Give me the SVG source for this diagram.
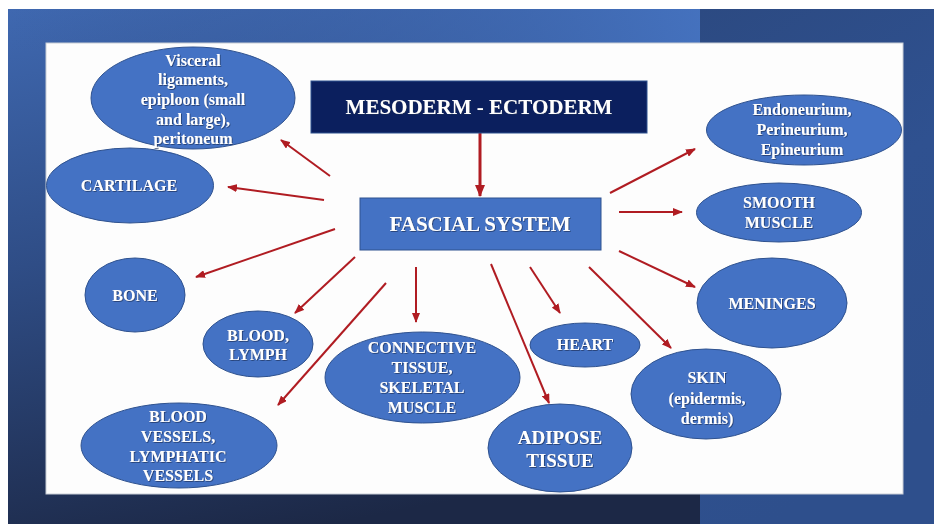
<svg xmlns="http://www.w3.org/2000/svg" width="934" height="524" viewBox="0 0 934 524">
<defs>
<linearGradient id="bgL" x1="0" y1="0" x2="0.35" y2="1">
<stop offset="0" stop-color="#3f68b0"/>
<stop offset="0.45" stop-color="#2f4d86"/>
<stop offset="1" stop-color="#1c2846"/>
</linearGradient>
<linearGradient id="bgTop" x1="0" y1="0" x2="1" y2="0">
<stop offset="0" stop-color="#36599a" stop-opacity="0"/>
<stop offset="1" stop-color="#4674c2" stop-opacity="0.9"/>
</linearGradient>
<linearGradient id="bgR" x1="0" y1="0" x2="0.3" y2="1">
<stop offset="0" stop-color="#2c4a82"/>
<stop offset="0.5" stop-color="#2f5190"/>
<stop offset="1" stop-color="#2e4f8c"/>
</linearGradient>
<filter id="ts" x="-10%" y="-30%" width="120%" height="160%">
<feDropShadow dx="0.8" dy="0.8" stdDeviation="0.4" flood-color="#1b2b55" flood-opacity="0.8"/>
</filter>
<marker id="ah" markerUnits="userSpaceOnUse" markerWidth="10" markerHeight="8" refX="9" refY="4" orient="auto">
<path d="M0,0 L10,4 L0,8 z" fill="#b01c22"/>
</marker>
<marker id="ahBig" markerUnits="userSpaceOnUse" markerWidth="12" markerHeight="10" refX="11" refY="5" orient="auto">
<path d="M0,0 L12,5 L0,10 z" fill="#b01c22"/>
</marker>
<style>
.ell{fill:#4472c4;stroke:#2f528f;stroke-width:1}
.t{fill:#ffffff;font-family:"Liberation Serif","Times New Roman",serif;font-weight:bold;font-size:16px;text-anchor:middle;filter:url(#ts)}
.con{stroke:#b01c22;stroke-width:2;fill:none;marker-end:url(#ah)}
</style>
</defs>

<g id="background">
<rect x="0" y="0" width="934" height="524" fill="#ffffff"/>
<rect x="8" y="9" width="926" height="515" fill="url(#bgL)"/>
<rect x="8" y="9" width="692" height="40" fill="url(#bgTop)"/>
<rect x="700" y="9" width="234" height="515" fill="url(#bgR)"/>
<rect x="46" y="43" width="857" height="451" fill="#fdfdfd" stroke="#c8cdd6" stroke-width="1"/>
</g>

<g id="connectors">
<line x1="480" y1="133" x2="480" y2="196" stroke="#b01c22" stroke-width="3" marker-end="url(#ahBig)"/>
<line class="con" x1="330" y1="176" x2="281" y2="140"/>
<line class="con" x1="324" y1="200" x2="228" y2="187"/>
<line class="con" x1="335" y1="229" x2="196" y2="277"/>
<line class="con" x1="355" y1="257" x2="295" y2="313"/>
<line class="con" x1="386" y1="283" x2="278" y2="405"/>
<line class="con" x1="416" y1="267" x2="416" y2="322"/>
<line class="con" x1="491" y1="264" x2="549" y2="403"/>
<line class="con" x1="530" y1="267" x2="560" y2="313"/>
<line class="con" x1="589" y1="267" x2="671" y2="348"/>
<line class="con" x1="619" y1="251" x2="695" y2="287"/>
<line class="con" x1="619" y1="212" x2="682" y2="212"/>
<line class="con" x1="610" y1="193" x2="695" y2="149"/>
</g>

<g id="mesoderm-ectoderm">
<rect x="311" y="81" width="336" height="52" fill="#0b1f5e" stroke="#2f528f" stroke-width="1"/>
<text class="t" x="479" y="114" style="font-size:21px">MESODERM - ECTODERM</text>
</g>

<g id="fascial-system">
<rect x="360" y="198" width="241" height="52" fill="#4472c4" stroke="#2f528f" stroke-width="1"/>
<text class="t" x="480" y="231" style="font-size:21px">FASCIAL SYSTEM</text>
</g>

<g id="visceral">
<ellipse class="ell" cx="193" cy="98" rx="102" ry="51"/>
<text class="t" x="193" y="66">Visceral</text>
<text class="t" x="193" y="85">ligaments,</text>
<text class="t" x="193" y="105">epiploon (small</text>
<text class="t" x="193" y="125">and large),</text>
<text class="t" x="193" y="144">peritoneum</text>
</g>

<g id="cartilage">
<ellipse class="ell" cx="130" cy="185.5" rx="83.5" ry="37.5"/>
<text class="t" x="129" y="191">CARTILAGE</text>
</g>

<g id="bone">
<ellipse class="ell" cx="135" cy="295" rx="50" ry="37"/>
<text class="t" x="135" y="301">BONE</text>
</g>

<g id="blood-lymph">
<ellipse class="ell" cx="258" cy="344" rx="55" ry="33"/>
<text class="t" x="258" y="341">BLOOD,</text>
<text class="t" x="258" y="360">LYMPH</text>
</g>

<g id="blood-vessels">
<ellipse class="ell" cx="179" cy="445.5" rx="98" ry="42.5"/>
<text class="t" x="178" y="422">BLOOD</text>
<text class="t" x="178" y="442">VESSELS,</text>
<text class="t" x="178" y="462">LYMPHATIC</text>
<text class="t" x="178" y="481">VESSELS</text>
</g>

<g id="connective-tissue">
<ellipse class="ell" cx="422.5" cy="377.5" rx="97.5" ry="45.5"/>
<text class="t" x="422" y="353">CONNECTIVE</text>
<text class="t" x="422" y="373">TISSUE,</text>
<text class="t" x="422" y="393">SKELETAL</text>
<text class="t" x="422" y="413">MUSCLE</text>
</g>

<g id="heart">
<ellipse class="ell" cx="585" cy="345" rx="55" ry="22"/>
<text class="t" x="585" y="350">HEART</text>
</g>

<g id="adipose-tissue">
<ellipse class="ell" cx="560" cy="448" rx="72" ry="44"/>
<text class="t" x="560" y="444" style="font-size:19px">ADIPOSE</text>
<text class="t" x="560" y="467" style="font-size:19px">TISSUE</text>
</g>

<g id="skin">
<ellipse class="ell" cx="706" cy="394" rx="75" ry="45"/>
<text class="t" x="707" y="383">SKIN</text>
<text class="t" x="707" y="404">(epidermis,</text>
<text class="t" x="707" y="424">dermis)</text>
</g>

<g id="meninges">
<ellipse class="ell" cx="772" cy="303" rx="75" ry="45"/>
<text class="t" x="772" y="309">MENINGES</text>
</g>

<g id="smooth-muscle">
<ellipse class="ell" cx="779" cy="212.5" rx="82.5" ry="29.5"/>
<text class="t" x="779" y="208">SMOOTH</text>
<text class="t" x="779" y="228">MUSCLE</text>
</g>

<g id="endoneurium">
<ellipse class="ell" cx="804" cy="130" rx="97.5" ry="35"/>
<text class="t" x="802" y="115">Endoneurium,</text>
<text class="t" x="802" y="135">Perineurium,</text>
<text class="t" x="802" y="155">Epineurium</text>
</g>
</svg>
